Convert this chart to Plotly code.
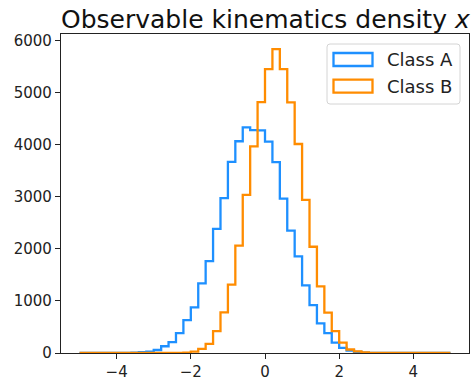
import numpy as np
import plotly.graph_objects as go

# Histogram binning: 50 bins of width 0.2 over [-5, 5]
bin_edges = np.linspace(-5, 5, 51)

# Counts per bin
class_a_counts = [
    0, 0, 0, 0, 0, 1, 3, 8, 14, 28,
    58, 130, 210, 380, 630, 877, 1338, 1765, 2382, 2973,
    3668, 4065, 4330, 4280, 4275, 4058, 3663, 2965, 2350, 1855,
    1300, 920, 570, 380, 200, 100, 48, 20, 8, 3,
    1, 0, 0, 0, 0, 0, 0, 0, 0, 0,
]
class_b_counts = [
    0, 0, 0, 0, 0, 0, 0, 0, 0, 0,
    0, 0, 0, 2, 8, 28, 80, 176, 418, 778,
    1312, 2062, 3036, 3968, 4815, 5448, 5832, 5450, 4810, 4012,
    2940, 2040, 1280, 776, 420, 200, 67, 33, 12, 4,
    1, 0, 0, 0, 0, 0, 0, 0, 0, 0,
]
series_names = ["Class A", "Class B"]
series_colors = ["#1E90FF", "#FF8C00"]

x_ticks = [-4, -2, 0, 2, 4]
x_tick_text = ["\u22124", "\u22122", "0", "2", "4"]
y_ticks = [0, 1000, 2000, 3000, 4000, 5000, 6000]

W, H = 474, 381
ML, MR, MT, MB = 61, 5, 34, 28
FONT = "DejaVu Sans"


def px_x(p):
    return (p - ML) / (W - ML - MR)


def px_y(p):
    return 1 - (p - MT) / (H - MT - MB)


def step_path(edges, counts):
    xs = [edges[0]] + list(edges[:-1]) + [edges[-1]]
    ys = [0] + list(counts) + [0]
    return xs, ys


fig = go.Figure()
for name, counts, color in zip(series_names, [class_a_counts, class_b_counts], series_colors):
    xs, ys = step_path(bin_edges, counts)
    fig.add_trace(go.Scatter(
        x=xs, y=ys, mode="lines", name=name,
        line=dict(color=color, width=2.3, shape="hv"),
        showlegend=False, hoverinfo="skip",
    ))

x_lo = bin_edges[0] - 0.05 * (bin_edges[-1] - bin_edges[0])
x_hi = bin_edges[-1] + 0.05 * (bin_edges[-1] - bin_edges[0])
y_hi = 1.05 * max(max(class_a_counts), max(class_b_counts))

axis_common = dict(
    showline=True, linecolor="#222", linewidth=1.2, mirror=True,
    ticks="outside", ticklen=5, tickwidth=1.1, tickcolor="#222",
    showgrid=False, zeroline=False, automargin=False,
    tickfont=dict(family=FONT, size=15, color="#222"),
)
fig.update_xaxes(range=[x_lo, x_hi], tickvals=x_ticks, ticktext=x_tick_text, **axis_common)
fig.update_yaxes(range=[0, y_hi], tickvals=y_ticks, **axis_common)

# Legend frame with rounded corners
lx0, lx1, ly0, ly1, r = 327, 460, 44, 104, 3
fx0, fx1 = px_x(lx0), px_x(lx1)
fy0, fy1 = px_y(ly0), px_y(ly1)
rx = r / (W - ML - MR)
ry = r / (H - MT - MB)
frame = (
    f"M {fx0 + rx},{fy0} L {fx1 - rx},{fy0} Q {fx1},{fy0} {fx1},{fy0 - ry} "
    f"L {fx1},{fy1 + ry} Q {fx1},{fy1} {fx1 - rx},{fy1} "
    f"L {fx0 + rx},{fy1} Q {fx0},{fy1} {fx0},{fy1 + ry} "
    f"L {fx0},{fy0 - ry} Q {fx0},{fy0} {fx0 + rx},{fy0} Z"
)
shapes = [dict(type="path", path=frame, xref="paper", yref="paper",
               line=dict(color="#d4d4d4", width=1), fillcolor="rgba(255,255,255,0.8)")]
annotations = []
for i, (name, color) in enumerate(zip(series_names, series_colors)):
    top = 53 + i * 26.7
    shapes.append(dict(type="rect", xref="paper", yref="paper",
                       x0=px_x(333.5), x1=px_x(372.5), y0=px_y(top), y1=px_y(top + 13),
                       line=dict(color=color, width=2.3), fillcolor="rgba(0,0,0,0)"))
    annotations.append(dict(text=name, xref="paper", yref="paper",
                            x=px_x(385), y=px_y(top + 6.5), xanchor="left", yanchor="middle",
                            showarrow=False, font=dict(family=FONT, size=18, color="#222")))

annotations.append(dict(text="Observable kinematics density <i>x</i>",
                        xref="paper", yref="paper", x=0.5, y=px_y(3), xanchor="center",
                        yanchor="top", showarrow=False,
                        font=dict(family=FONT, size=25, color="#111")))

fig.update_layout(
    width=W, height=H,
    margin=dict(l=ML, r=MR, t=MT, b=MB),
    paper_bgcolor="white", plot_bgcolor="white",
    shapes=shapes, annotations=annotations,
)

fig.write_html("out.html")
